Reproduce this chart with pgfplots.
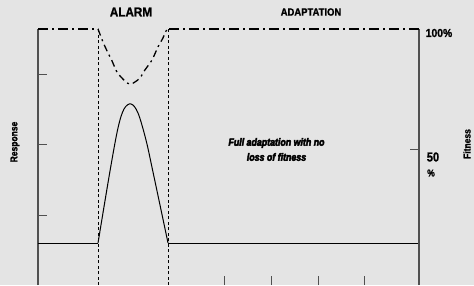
\documentclass[border=0pt]{standalone}
\usepackage{pgfplots}
\pgfplotsset{compat=1.18}
\usepackage{fontspec}
\setmainfont{Liberation Sans}
\newfontfamily\condfont[FakeStretch=0.9,FakeBold=1.2]{Liberation Sans Bold}
\newfontfamily\narrowfont[FakeStretch=0.85,FakeBold=1.2]{Liberation Sans Bold}
\newfontfamily\heavyit[FakeStretch=0.84,FakeBold=4]{Liberation Sans Bold Italic}
\definecolor{bgc}{RGB}{228,228,228}
\definecolor{axgray}{RGB}{80,80,80}
\begin{document}
\begin{tikzpicture}[x=1pt,y=1pt]
\fill[bgc] (0,0) rectangle (474,285);
\useasboundingbox (0,0) rectangle (474,285);
\clip (0,0) rectangle (474,285);
% Response axis
\begin{axis}[at={(38pt,0pt)}, anchor=south west, scale only axis,
  width=381pt, height=256pt,
  xmin=0, xmax=8.164, ymin=0, ymax=3.657,
  axis x line*=bottom, axis y line*=left,
  x axis line style={draw=none},
  y axis line style={draw=axgray, line width=1.2pt, -},
  xtick={4,5,6,7}, ytick={1,2,3},
  xticklabels={}, yticklabels={},
  tick align=inside, major tick length=9pt,
  tick style={axgray, line width=1pt},
  clip=false]
\addplot[black, line width=1pt] coordinates {(0,0.6)(1.286,0.6)};
\addplot[black, line width=1pt, smooth, tension=0.55] coordinates {
  (1.286,0.6)(1.543,1.629)(1.714,2.243)(1.843,2.514)(1.993,2.586)
  (2.143,2.457)(2.314,2.071)(2.464,1.614)(2.786,0.6)};
\addplot[black, line width=1pt] coordinates {(2.786,0.6)(8.164,0.6)};
\addplot[black, line width=0.8pt, dash pattern=on 3pt off 2.5pt] coordinates {(1.286,0)(1.286,3.657)};
\addplot[black, line width=0.8pt, dash pattern=on 3pt off 2.5pt] coordinates {(2.8,0)(2.8,3.657)};
\end{axis}
% Fitness axis
\begin{axis}[at={(38pt,0pt)}, anchor=south west, scale only axis,
  width=381pt, height=256pt,
  xmin=0, xmax=8.164, ymin=-5.8, ymax=100,
  axis x line=none, axis y line*=right,
  y axis line style={draw=axgray, line width=1.2pt, -},
  ytick={50}, yticklabels={},
  tick align=inside, major tick length=9pt,
  tick style={axgray, line width=1pt},
  clip=false]
\addplot[black, line width=1.3pt, dash pattern=on 10pt off 4pt on 2pt off 4pt] coordinates {(0,100)(1.286,100)};
\addplot[black, line width=1.3pt, smooth, tension=0.5, dash pattern=on 7pt off 4pt on 2pt off 4pt] coordinates {
  (1.286,100)(1.393,94.6)(1.5,90.1)(1.586,86.8)(1.693,82.2)(1.821,79.3)
  (1.907,77.7)(1.993,77.3)(2.078,78.1)(2.186,79.8)(2.293,83.1)(2.443,87.2)
  (2.571,92.6)(2.678,96.3)(2.743,99.2)(2.807,100)};
\addplot[black, line width=1.3pt, dash pattern=on 10pt off 4pt on 2pt off 4pt] coordinates {(2.807,100)(8.164,100)};
\end{axis}
% Labels
\node[font=\condfont\fontsize{13}{13}\selectfont] at (131,273) {ALARM};
\node[font=\condfont\fontsize{10.5}{10.5}\selectfont] at (311,273) {ADAPTATION};
\node[font=\condfont\fontsize{11.5}{11.5}\selectfont] at (439,252) {100\%};
\node[font=\narrowfont\fontsize{13}{13}\selectfont] at (433,128) {50};
\node[font=\narrowfont\fontsize{10}{10}\selectfont] at (431,112) {\%};
\node[font=\narrowfont\fontsize{10}{10}\selectfont, rotate=90] at (467,141) {Fitness};
\node[font=\narrowfont\fontsize{10}{10}\selectfont, rotate=90] at (15,143) {Response};
\node[font=\heavyit\fontsize{10.5}{10.5}\selectfont] at (276.5,142) {Full adaptation with no};
\node[font=\heavyit\fontsize{10.5}{10.5}\selectfont] at (276.5,128) {loss of fitness};
\end{tikzpicture}
\end{document}
